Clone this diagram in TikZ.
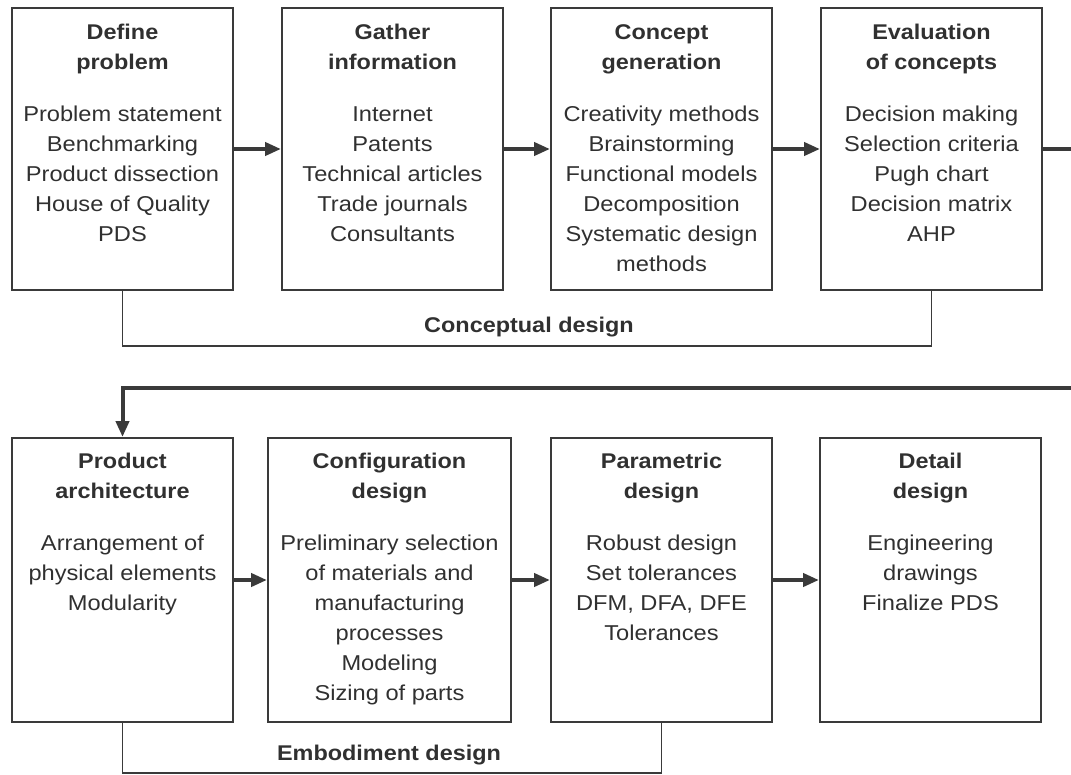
\documentclass[tikz,border=0pt]{standalone}
\usepackage{fontspec}
\setmainfont{Liberation Sans}[FakeStretch=1.1]
\usetikzlibrary{arrows.meta}
\definecolor{ink}{HTML}{303030}
\definecolor{rule}{HTML}{3A3A3A}
\newcommand\hd[1]{{\fontsize{21.3}{30}\selectfont\bfseries #1}}
\tikzset{
  stage/.style={draw=rule, line width=2pt, minimum width=221pt, minimum height=282pt, inner sep=0pt},
  stagetext/.style={anchor=north, align=center, inner sep=0pt, text=ink,
    font=\fontsize{21.5}{30}\selectfont},
  flow/.style={draw=rule, line width=4pt, line join=miter, -{Triangle[length=16pt,width=13pt]}},
  bracket/.style={draw=rule, line width=1.6pt},
  phase/.style={text=ink, font=\bfseries\fontsize{21.3}{25}\selectfont, inner sep=0pt}
}
\begin{document}
\begin{tikzpicture}[x=1pt,y=-1pt]
\useasboundingbox (0,0) rectangle (1071,774);

% conceptual design stages
\node[stage] (T1) at (122.5,149) {};
\node[stage] (T2) at (392.5,149) {};
\node[stage] (T3) at (661.5,149) {};
\node[stage] (T4) at (931.5,149) {};

\node[stagetext] (T1txt) at ([yshift=-17pt]T1.north)
  {\hd{Define}\\\hd{problem}\\[22pt]Problem statement\\Benchmarking\\Product dissection\\House of Quality\\PDS};
\node[stagetext] (T2txt) at ([yshift=-17pt]T2.north)
  {\hd{Gather}\\\hd{information}\\[22pt]Internet\\Patents\\Technical articles\\Trade journals\\Consultants};
\node[stagetext] (T3txt) at ([yshift=-17pt]T3.north)
  {\hd{Concept}\\\hd{generation}\\[22pt]Creativity methods\\Brainstorming\\Functional models\\Decomposition\\Systematic design\\methods};
\node[stagetext] (T4txt) at ([yshift=-17pt]T4.north)
  {\hd{Evaluation}\\\hd{of concepts}\\[22pt]Decision making\\Selection criteria\\Pugh chart\\Decision matrix\\AHP};

% embodiment and detail stages
\node[stage, minimum height=284pt] (B1) at (122.5,580) {};
\node[stage, minimum height=284pt, minimum width=243pt] (B2) at (389.5,580) {};
\node[stage, minimum height=284pt] (B3) at (661.5,580) {};
\node[stage, minimum height=284pt] (B4) at (930.5,580) {};

\node[stagetext] (B1txt) at ([yshift=-16pt]B1.north)
  {\hd{Product}\\\hd{architecture}\\[22pt]Arrangement of\\physical elements\\Modularity};
\node[stagetext] (B2txt) at ([yshift=-16pt]B2.north)
  {\hd{Configuration}\\\hd{design}\\[22pt]Preliminary selection\\of materials and\\manufacturing\\processes\\Modeling\\Sizing of parts};
\node[stagetext] (B3txt) at ([yshift=-16pt]B3.north)
  {\hd{Parametric}\\\hd{design}\\[22pt]Robust design\\Set tolerances\\DFM, DFA, DFE\\Tolerances};
\node[stagetext] (B4txt) at ([yshift=-16pt]B4.north)
  {\hd{Detail}\\\hd{design}\\[22pt]Engineering\\drawings\\Finalize PDS};

% flow between stages
\draw[flow] (T1.east) -- (T2.west);
\draw[flow] (T2.east) -- (T3.west);
\draw[flow] (T3.east) -- (T4.west);
\draw[flow] (B1.east) -- (B2.west);
\draw[flow] (B2.east) -- (B3.west);
\draw[flow] (B3.east) -- (B4.west);

% the return path runs just past the right margin
\coordinate (turnA) at (1078,149);
\coordinate (turnB) at (1078,388);
\draw[flow] (T4.east) -- (turnA) -- (turnB) -| (B1.north);

% phase brackets
\draw[bracket] (T1.south) -- ++(0,55) -| (T4.south);
\node[phase] (cdlabel) at (529,327) {Conceptual design};
\draw[bracket] (B1.south) -- ++(0,50) -| (B3.south);
\node[phase] (edlabel) at (389,755) {Embodiment design};
\end{tikzpicture}
\end{document}
